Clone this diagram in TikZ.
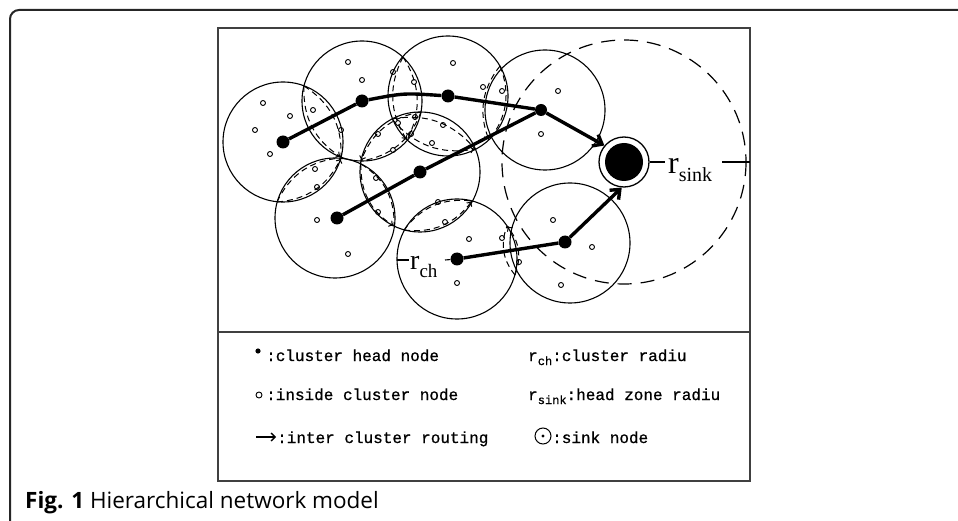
\documentclass[tikz,border=0pt]{standalone}
\usepackage{fontspec}
\setmainfont{Liberation Serif}
\newfontfamily\legfont[FakeBold=0.8]{Liberation Mono}
\newfontfamily\capfont{Open Sans}
\usetikzlibrary{arrows.meta}
\tikzset{
  clus/.style={circle, draw, line width=1.1pt, minimum size=120pt, inner sep=0pt},
  head/.style={circle, fill, inner sep=0pt, minimum size=13pt},
  mem/.style={circle, draw, line width=0.9pt, inner sep=0pt, minimum size=5pt},
  route/.style={line width=3.4pt},
  rarrow/.style={-{Straight Barb[length=8pt,width=13pt]}},
  lensd/.style={dash pattern=on 6pt off 4pt, line width=1pt},
  lensa/.style={lensd, -{To[length=5pt,width=7pt]}},
  leg/.style={font=\legfont\fontsize{16}{16}\selectfont, inner sep=0pt, anchor=base west},
  big/.style={font=\fontsize{32}{32}\selectfont, inner sep=0pt, anchor=base west},
  frame/.style={line width=1.6pt, black!75}
}
\begin{document}
\begin{tikzpicture}[x=1pt,y=-1pt]
\useasboundingbox (0,0) rectangle (958,521);
% outer frame
\draw[line width=2pt, black!85, rounded corners=9pt] (958,10) -- (10,10) -- (10,521);
% inner box
\draw[frame] (218,28) rectangle (750,481);
\draw[frame] (218,332) -- (750,332);

% sink zone
\draw[dash pattern=on 14pt off 9pt, line width=1.2pt] (624,162) circle[radius=122];

% clusters
\node[clus] (A) at (283,142) {};
\node[clus] (B) at (362,101) {};
\node[clus] (C) at (448,96) {};
\node[clus] (D) at (545,110) {};
\node[clus] (E) at (420,172) {};
\node[clus] (F) at (335,218) {};
\node[clus] (G) at (457,259) {};
\node[clus] (H) at (570,243) {};

% lens intersection points
\coordinate (ab1) at (304,86);  \coordinate (ab2) at (341,157);
\coordinate (af1) at (341,158); \coordinate (af2) at (277,202);
\coordinate (bc1) at (403,57);  \coordinate (bc2) at (407,140);
\coordinate (be1) at (421,112); \coordinate (be2) at (361,161);
\coordinate (cd1) at (500,66);  \coordinate (cd2) at (489,140);
\coordinate (ce1) at (392,119); \coordinate (ce2) at (475,149);
\coordinate (ef1) at (361,164); \coordinate (ef2) at (394,226);
\coordinate (eg1) at (404,230); \coordinate (eg2) at (472,201);
\coordinate (gh1) at (507,226); \coordinate (gh2) at (515,275);

\foreach \p/\q in {ab1/ab2, af2/af1, bc1/bc2, be1/be2, cd1/cd2, ce1/ce2, ef1/ef2, eg1/eg2, gh2/gh1}{
  \draw[lensd] (\p) to[bend left=30] (\q);
  \draw[lensa] (\p) to[bend right=30] (\q);
}

% member nodes
\foreach \x/\y [count=\i] in {348/62, 362/80, 453/63, 263/103, 290/116, 255/130, 270/154, 313/110,
  341/130, 393/72, 414/82, 398/123, 378/134, 415/117, 411/134, 443/125, 432/143, 393/150,
  315/169, 317/187, 376/178, 378/212, 317/220, 445/222, 438/202, 483/87, 502/91, 558/91,
  541/134, 553/220, 502/238, 348/254, 469/239, 457/283, 519/262, 592/247, 561/285}
  \node[mem] (m\i) at (\x,\y) {};

% sink
\node[circle, draw, line width=1.3pt, minimum size=50pt, inner sep=0pt] (sink) at (624,162) {};
\node[circle, fill, minimum size=38pt, inner sep=0pt] (sinkc) at (624,162) {};

% heads
\node[head] (hA) at (283,142) {};
\node[head] (hB) at (362,101) {};
\node[head] (hC) at (448,96) {};
\node[head, minimum size=12pt] (hD) at (541,110) {};
\node[head] (hE) at (420,172) {};
\node[head] (hF) at (337,218) {};
\node[head] (hG) at (457,259) {};
\node[head] (hH) at (565,242) {};

% routes
\draw[route] (hA) -- (hB) .. controls (404,93) .. (hC) -- (hD);
\draw[route] (hF) -- (hE) -- (hD);
\draw[route] (hG) -- (hH);
\draw[route, rarrow] (hD) -- (sink.140);
\draw[route, rarrow] (hH) -- (sink.265);

% r_sink label
\coordinate (rs1) at (665,162); \coordinate (rs2) at (722,162); \coordinate (rs3) at (750,162);
\draw[line width=1.2pt] (sink.east) -- (rs1);
\draw[line width=1.2pt] (rs2) -- (rs3);
\node[big] (rsink) at (668,174) {r\raisebox{-8pt}{\fontsize{20}{20}\selectfont sink}};

% r_ch label
\coordinate (rc0) at (397,260); \coordinate (rc1) at (409,260); \coordinate (rc2) at (445,260);
\draw[line width=1.1pt] (rc0) -- (rc1);
\draw[line width=1.1pt] (rc2) -- (hG);
\node[big, font=\fontsize{28}{28}\selectfont] (rch) at (410,270) {r\raisebox{-7pt}{\fontsize{19}{19}\selectfont ch}};

% legend
\fill (258,351) circle[radius=2.6];
\node[leg] (l1) at (266,361) {:cluster head node};
\draw[line width=0.9pt] (259,395) circle[radius=3];
\node[leg] (l2) at (266,400) {:inside cluster node};
\coordinate (la1) at (256,437); \coordinate (la2) at (276,437);
\draw[line width=1.3pt, -{Straight Barb[length=4pt,width=8pt]}] (la1) -- (la2);
\node[leg] (l3) at (277,443) {:inter cluster routing};
\node[leg] (l4) at (528,361) {r\raisebox{-4pt}{\fontsize{12}{12}\selectfont ch}:cluster radiu};
\node[leg] (l5) at (528,400) {r\raisebox{-4pt}{\fontsize{12}{12}\selectfont sink}:head zone radiu};
\node[circle, draw, line width=1pt, minimum size=16pt, inner sep=0pt] (lsink) at (543,436) {};
\fill (lsink) circle[radius=1.6];
\node[leg] (l6) at (552,443) {:sink node};

% caption
\node[inner sep=0pt, anchor=base west] (cap) at (25,508) {\capfont\fontsize{22.5}{22.5}\selectfont\textbf{Fig. 1} Hierarchical network model};
\end{tikzpicture}
\end{document}
